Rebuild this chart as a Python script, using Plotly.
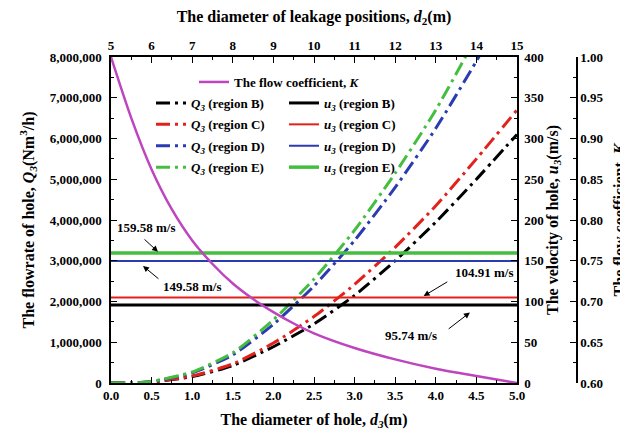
import plotly.graph_objects as go

# ---------------- data ----------------
d3 = [0.0, 0.25, 0.5, 1.0, 1.5, 2.0, 2.5, 3.0, 3.5, 4.0, 4.5, 5.0]
q_region_b = [0, 0, 0.025e6, 0.155e6, 0.43e6, 0.89e6, 1.45e6, 2.15e6, 3.0e6, 3.95e6, 5.0e6, 6.1e6]
q_region_c = [0, 0, 0.03e6, 0.17e6, 0.47e6, 0.98e6, 1.63e6, 2.42e6, 3.33e6, 4.35e6, 5.5e6, 6.7e6]
q_region_d = [0, 0, 0.035e6, 0.25e6, 0.69e6, 1.44e6, 2.38e6, 3.5e6, 4.8e6, 6.25e6, 7.9e6, 9.7e6]
q_region_e = [0, 0, 0.04e6, 0.27e6, 0.74e6, 1.55e6, 2.55e6, 3.75e6, 5.15e6, 6.7e6, 8.5e6, 10.4e6]

u_x = [0.0, 5.0]
u_region_b = 95.74
u_region_c = 104.91
u_region_d = 149.58
u_region_e = 159.58

d2 = [5, 5.5, 6, 6.5, 7, 7.5, 8, 8.5, 9, 9.5, 10, 11, 12, 13, 14, 15]
k_coef = [1.0, 0.925, 0.862, 0.813, 0.775, 0.746, 0.722, 0.703, 0.687, 0.673, 0.661,
          0.643, 0.629, 0.6175, 0.6085, 0.6]

region_names = ["B", "C", "D", "E"]
colors = ["#000000", "#E3211C", "#2B3BB0", "#44BE3F"]
u_widths = [3, 2, 2, 3.5]
purple = "#BE45BE"

FONT = "Liberation Serif"

fig = go.Figure()

q_all = [q_region_b, q_region_c, q_region_d, q_region_e]
u_all = [u_region_b, u_region_c, u_region_d, u_region_e]

# horizontal velocity lines (right axis)
for name, u, c, w in zip(region_names, u_all, colors, u_widths):
    fig.add_trace(go.Scatter(
        x=u_x, y=[u, u], xaxis="x", yaxis="y2", mode="lines",
        line=dict(color=c, width=w), legendgroup="u" + name,
        name=f"<i>u<sub>3</sub></i> (region {name})", legend="legend3"))

# flowrate curves
for name, q, c in zip(region_names, q_all, colors):
    fig.add_trace(go.Scatter(
        x=d3, y=q, xaxis="x", yaxis="y", mode="lines",
        line=dict(color=c, width=3, dash="14px,5px,3px,5px", shape="spline", smoothing=0.6),
        legendgroup="q" + name,
        name=f"<i>Q<sub>3</sub></i> (region {name})", legend="legend2"))

# flow coefficient
fig.add_trace(go.Scatter(
    x=d2, y=k_coef, xaxis="x2", yaxis="y3", mode="lines",
    line=dict(color=purple, width=2.5, shape="spline", smoothing=0.8),
    name="The flow coefficient, <i>K</i>", legend="legend"))

# page is rendered with an 8px body margin; positions below are page pixels
OFF = 8
W, H = 628, 434
L, T = 111 - OFF, 57 - OFF
B = H - (383 - OFF)
R = 40
pw = W - L - R
ph = H - T - B
x_end = (517 - OFF - L) / pw
k_pos = (577 - OFF - L) / pw

tickfont = dict(family=FONT, size=13, color="black", weight="bold")
titlefont = dict(family=FONT, size=16, color="black", weight="bold")
legfont = dict(family=FONT, size=13, color="black", weight="bold")

common = dict(showline=True, linecolor="black", linewidth=1.5, ticks="inside",
              ticklen=6, tickwidth=1.2, tickcolor="black", showgrid=False,
              zeroline=False, tickfont=tickfont, automargin=False)

def py(p):
    return (383 - p) / ph

def px(p):
    return (p - OFF - L) / pw

minor = lambda dt: dict(dtick=dt, ticks="inside", ticklen=3, tickcolor="black", tickwidth=1)

fig.update_layout(
    width=W, height=H,
    margin=dict(l=L, r=R, t=T, b=B, autoexpand=False),
    plot_bgcolor="white", paper_bgcolor="white",
    xaxis=dict(domain=[0, x_end], range=[0, 5], dtick=0.5, tickformat=".1f", minor=minor(0.25),
               title=dict(text="The diameter of hole, <i>d<sub>3</sub></i>(m)", font=titlefont, standoff=11),
               anchor="y", **common),
    xaxis2=dict(domain=[0, x_end], range=[5, 15], dtick=1, overlaying="x", side="top", anchor="y",
                minor=minor(0.5),
                title=dict(text="The diameter of leakage positions, <i>d</i><sub>2</sub>(m)", font=titlefont, standoff=12),
                **common),
    yaxis=dict(range=[0, 8e6], dtick=1e6, tickformat=",d", minor=minor(5e5), ticklabelstandoff=5,
               title=dict(text="The flowrate of hole, <i>Q<sub>3</sub></i>(Nm<sup>3</sup>/h)", font=titlefont, standoff=11),
               anchor="x", **common),
    yaxis2=dict(range=[0, 400], dtick=50, overlaying="y", side="right", anchor="x", minor=minor(25),
                ticklabelstandoff=3,
                title=dict(text="The velocity of hole, <i>u<sub>3</sub></i>(m/s)", font=titlefont, standoff=4),
                **common),
    yaxis3=dict(range=[0.6, 1.0], dtick=0.05, tickformat=".2f", overlaying="y", side="right",
                anchor="free", position=k_pos, minor=minor(0.025),
                title=dict(text="The flow coefficient, <i>K</i>", font=titlefont, standoff=10),
                **common),
    legend=dict(x=px(194), y=py(67), xanchor="left", yanchor="top", font=legfont,
                bgcolor="rgba(0,0,0,0)", borderwidth=0, tracegroupgap=0),
    legend2=dict(x=px(151), y=py(88), xanchor="left", yanchor="top", font=legfont,
                 bgcolor="rgba(0,0,0,0)", borderwidth=0, tracegroupgap=1.5, traceorder="grouped"),
    legend3=dict(x=px(284), y=py(88), xanchor="left", yanchor="top", font=legfont,
                 bgcolor="rgba(0,0,0,0)", borderwidth=0, tracegroupgap=1.5, traceorder="grouped"),
    showlegend=True,
)

annfont = dict(family=FONT, size=13, color="black", weight="bold")
arrows = [
    # (head x, head u, tail x, tail u)
    (0.579, 161.0, 0.394, 177.9),
    (0.394, 143.6, 0.603, 126.4),
    (3.85, 106.7, 4.16, 125.2),
    (4.42, 86.5, 4.14, 65.0),
]
for hx, hy, tx, ty in arrows:
    fig.add_annotation(x=hx, y=hy, xref="x", yref="y2", ax=tx, ay=ty, axref="x", ayref="y2",
                       text="", showarrow=True, arrowhead=2, arrowsize=1.2, arrowwidth=1, arrowcolor="black")

labels = [
    ("159.58 m/s", 0.443, 191.4),
    ("149.58 m/s", 1.0, 117.8),
    ("104.91 m/s", 4.6, 135.0),
    ("95.74 m/s", 3.69, 58.9),
]
for t, x, y in labels:
    fig.add_annotation(x=x, y=y, xref="x", yref="y2", text=t, showarrow=False, font=annfont)

fig.write_html("out.html")
